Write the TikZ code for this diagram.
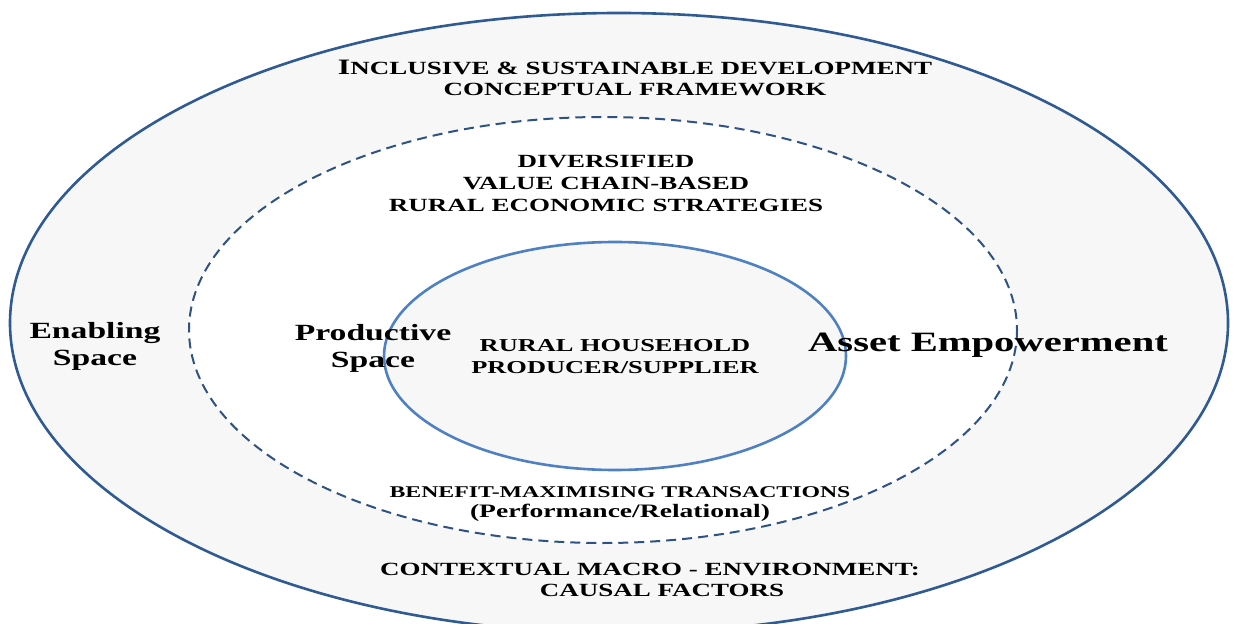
\documentclass[tikz,border=0pt]{standalone}
\usepackage{fontspec}
\setmainfont{Liberation Serif}[FakeStretch=1.45]
\definecolor{outerblue}{HTML}{2F5A92}
\definecolor{dashblue}{HTML}{2E5283}
\definecolor{coreblue}{HTML}{4F81C2}
\definecolor{ringgray}{HTML}{F7F7F7}
\begin{document}
\begin{tikzpicture}[
  x=0.5pt, y=-0.5pt,
  lbl/.style={font=\bfseries\fontsize{9.3}{10.5}\selectfont, align=center, inner sep=0pt},
  smalllbl/.style={lbl, font=\bfseries\fontsize{8.2}{10}\selectfont},
  spacelbl/.style={lbl, font=\bfseries\fontsize{11.6}{13.5}\selectfont},
  biglbl/.style={lbl, font=\bfseries\fontsize{14}{16}\selectfont}
]
\useasboundingbox (0,0) rectangle (1235,624);
\clip (0,0) rectangle (1235,624);
% rings
\draw[outerblue, line width=1.3pt, fill=ringgray] (619,323) ellipse [x radius=609, y radius=310];
\draw[dashblue, line width=1pt, dash pattern=on 5pt off 3pt, fill=white] (603,330) ellipse [x radius=414, y radius=213];
\draw[coreblue, line width=1.3pt, fill=ringgray] (615,356) ellipse [x radius=231, y radius=114];
% labels
\node[lbl]      (frame)   at (635,78)  {{\fontsize{11}{10.5}\selectfont I}NCLUSIVE \& SUSTAINABLE DEVELOPMENT\\CONCEPTUAL FRAMEWORK};
\node[lbl, font=\bfseries\fontsize{9.3}{11}\selectfont] (strat) at (606,183) {DIVERSIFIED\\VALUE CHAIN-BASED\\RURAL ECONOMIC STRATEGIES};
\node[spacelbl] (enable)  at (95,346)  {Enabling\\Space};
\node[spacelbl] (produce) at (373,348) {Productive\\Space};
\node[lbl, font=\bfseries\fontsize{9.1}{11}\selectfont] (house) at (615,357) {RURAL HOUSEHOLD\\PRODUCER/SUPPLIER};
\node[biglbl]   (asset)   at (988,345) {Asset Empowerment};
\node[smalllbl] (benefit) at (620,504) {BENEFIT-MAXIMISING TRANSACTIONS\\{\fontsize{9.5}{10}\selectfont(Performance/Relational)}};
\node[lbl]      (macro)   at (650,580) {CONTEXTUAL MACRO - ENVIRONMENT:\\\hspace*{12pt}CAUSAL FACTORS};
\end{tikzpicture}
\end{document}
